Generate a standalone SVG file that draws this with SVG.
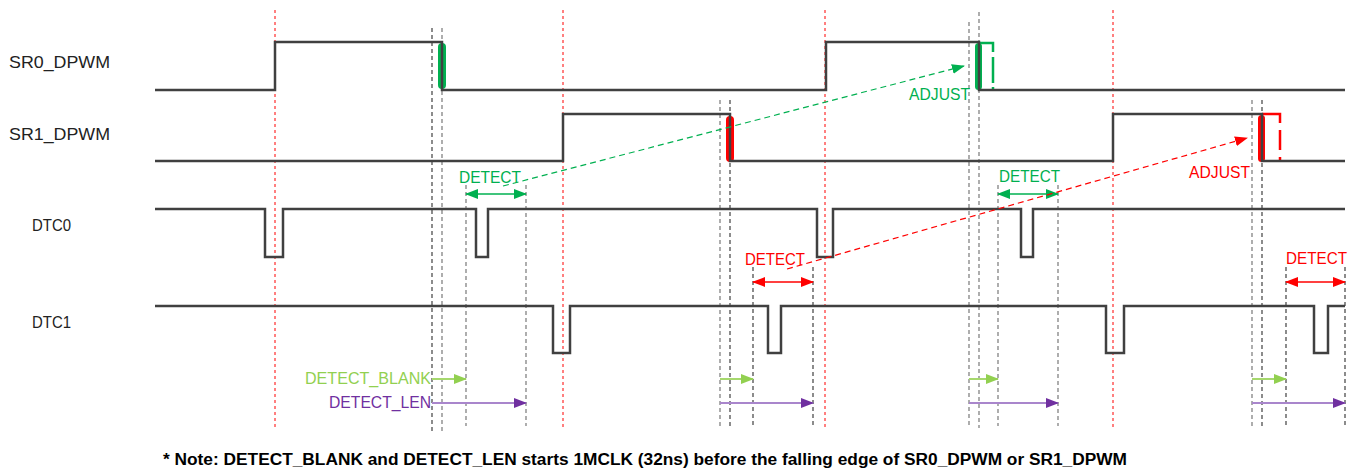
<svg xmlns="http://www.w3.org/2000/svg" width="1353" height="473" viewBox="0 0 1353 473">
<style>
.bg{fill:#fff}
.wave{fill:none;stroke:#404040;stroke-width:2.5}
.vd{stroke:#404040;stroke-width:1.2;stroke-dasharray:4 3;fill:none}
.vg{stroke:#8c8c8c;stroke-width:1.4;stroke-dasharray:4 3;fill:none}
.vr{stroke:#ff0000;stroke-width:1;stroke-dasharray:3 3;fill:none}
.lbl{font-family:"Liberation Sans",Arial,sans-serif;font-size:16.5px;fill:#222}
.g{fill:#00b050}
.r{fill:#ff0000}
.t{font-family:"Liberation Sans",Arial,sans-serif;font-size:16.5px}
.note{font-family:"Liberation Sans",Arial,sans-serif;font-size:16px;font-weight:bold;fill:#000}
</style>
<defs>
<marker id="ag" markerUnits="userSpaceOnUse" markerWidth="13" markerHeight="10" refX="12" refY="5" orient="auto-start-reverse"><path d="M0,0 L13,5 L0,10 z" fill="#00b050"/></marker>
<marker id="ar" markerUnits="userSpaceOnUse" markerWidth="13" markerHeight="10" refX="12" refY="5" orient="auto-start-reverse"><path d="M0,0 L13,5 L0,10 z" fill="#ff0000"/></marker>
<marker id="alg" markerUnits="userSpaceOnUse" markerWidth="13" markerHeight="10" refX="12" refY="5" orient="auto"><path d="M0,0 L13,5 L0,10 z" fill="#92d050"/></marker>
<marker id="ap" markerUnits="userSpaceOnUse" markerWidth="13" markerHeight="10" refX="12" refY="5" orient="auto"><path d="M0,0 L13,5 L0,10 z" fill="#7030a0"/></marker>
</defs>
<rect class="bg" x="0" y="0" width="1353" height="473"/>

<g id="guides">
<line class="vr" x1="275" y1="10" x2="275" y2="430"/>
<line class="vr" x1="563" y1="10" x2="563" y2="430"/>
<line class="vr" x1="825" y1="10" x2="825" y2="430"/>
<line class="vr" x1="1113" y1="10" x2="1113" y2="430"/>
<line class="vd" x1="432" y1="28" x2="432" y2="434"/>
<line class="vg" x1="442" y1="28" x2="442" y2="434"/>
<line class="vg" x1="466" y1="185" x2="466" y2="426"/>
<line class="vg" x1="526" y1="185" x2="526" y2="426"/>
<line class="vg" x1="720" y1="100" x2="720" y2="428"/>
<line class="vd" x1="730" y1="100" x2="730" y2="428"/>
<line class="vd" x1="753" y1="267" x2="753" y2="426"/>
<line class="vd" x1="813" y1="267" x2="813" y2="426"/>
<line class="vg" x1="969" y1="22" x2="969" y2="428"/>
<line class="vg" x1="979" y1="12" x2="979" y2="428"/>
<line class="vg" x1="998" y1="185" x2="998" y2="426"/>
<line class="vg" x1="1058" y1="185" x2="1058" y2="426"/>
<line class="vg" x1="1252" y1="100" x2="1252" y2="428"/>
<line class="vd" x1="1262" y1="100" x2="1262" y2="428"/>
<line class="vd" x1="1286" y1="267" x2="1286" y2="426"/>
<line class="vd" x1="1345" y1="267" x2="1345" y2="426"/>
</g>

<g id="marks">
<rect class="g" x="438" y="43" width="8" height="46" rx="4"/>
<rect class="r" x="726" y="116" width="8" height="46" rx="4"/>
<rect class="g" x="975" y="43" width="7" height="47" rx="3.5"/>
<rect class="r" x="1258" y="115" width="7" height="47" rx="3.5"/>
<path d="M979,43 H993 V91" fill="none" stroke="#00b050" stroke-width="2.5" stroke-dasharray="23 5 26 4 4 10"/>
<path d="M1262,114 H1280 V162" fill="none" stroke="#ff0000" stroke-width="2.5" stroke-dasharray="27 7 20 7 6 10"/>
</g>

<g id="SR0_DPWM"><text class="lbl" x="9" y="68" textLength="101" lengthAdjust="spacingAndGlyphs">SR0_DPWM</text>
<path class="wave" d="M155,90 H275 V42 H442 V90 H826 V42 H979 V90 H1345"/></g>
<g id="SR1_DPWM"><text class="lbl" x="9" y="140" textLength="101" lengthAdjust="spacingAndGlyphs">SR1_DPWM</text>
<path class="wave" d="M155,161 H563 V114 H730 V161 H1113 V114 H1262 V161 H1345"/></g>
<g id="DTC0"><text class="lbl" x="32" y="231" textLength="39" lengthAdjust="spacingAndGlyphs">DTC0</text>
<path class="wave" d="M155,209 H265 V257 H283 V209 H476 V257 H488 V209 H817 V257 H833 V209 H1021 V257 H1033 V209 H1345"/></g>
<g id="DTC1"><text class="lbl" x="32" y="328" textLength="39" lengthAdjust="spacingAndGlyphs">DTC1</text>
<path class="wave" d="M155,306 H553 V353 H570 V306 H768 V353 H781 V306 H1106 V353 H1124 V306 H1314 V353 H1328 V306 H1345"/></g>

<g id="connectors">
<line x1="466" y1="194" x2="526" y2="194" stroke="#00b050" stroke-width="1.5" marker-start="url(#ag)" marker-end="url(#ag)"/>
<line x1="998" y1="194" x2="1058" y2="194" stroke="#00b050" stroke-width="1.5" marker-start="url(#ag)" marker-end="url(#ag)"/>
<line x1="753" y1="282" x2="813" y2="282" stroke="#ff0000" stroke-width="1.5" marker-start="url(#ar)" marker-end="url(#ar)"/>
<line x1="1286" y1="282" x2="1345" y2="282" stroke="#ff0000" stroke-width="1.5" marker-start="url(#ar)" marker-end="url(#ar)"/>
<line x1="503" y1="186" x2="964" y2="66" stroke="#00b050" stroke-width="1.2" stroke-dasharray="6 4" marker-end="url(#ag)"/>
<line x1="787" y1="269" x2="1247" y2="138" stroke="#ff0000" stroke-width="1.2" stroke-dasharray="6 4" marker-end="url(#ar)"/>
<line x1="432" y1="379" x2="466" y2="379" stroke="#a6d86e" stroke-width="2" marker-end="url(#alg)"/>
<line x1="720" y1="379" x2="753" y2="379" stroke="#a6d86e" stroke-width="2" marker-end="url(#alg)"/>
<line x1="969" y1="379" x2="998" y2="379" stroke="#a6d86e" stroke-width="2" marker-end="url(#alg)"/>
<line x1="1252" y1="379" x2="1286" y2="379" stroke="#a6d86e" stroke-width="2" marker-end="url(#alg)"/>
<line x1="432" y1="403" x2="526" y2="403" stroke="#a986cc" stroke-width="2" marker-end="url(#ap)"/>
<line x1="720" y1="403" x2="813" y2="403" stroke="#a986cc" stroke-width="2" marker-end="url(#ap)"/>
<line x1="969" y1="403" x2="1058" y2="403" stroke="#a986cc" stroke-width="2" marker-end="url(#ap)"/>
<line x1="1252" y1="403" x2="1345" y2="403" stroke="#a986cc" stroke-width="2" marker-end="url(#ap)"/>
</g>

<g id="labels">
<text class="t" x="459" y="183" fill="#00b050" textLength="62" lengthAdjust="spacingAndGlyphs">DETECT</text>
<text class="t" x="999" y="182" fill="#00b050" textLength="61" lengthAdjust="spacingAndGlyphs">DETECT</text>
<text class="t" x="745" y="265" fill="#ff0000" textLength="60" lengthAdjust="spacingAndGlyphs">DETECT</text>
<text class="t" x="1286" y="264" fill="#ff0000" textLength="61" lengthAdjust="spacingAndGlyphs">DETECT</text>
<text class="t" x="909" y="100" fill="#00b050" textLength="61" lengthAdjust="spacingAndGlyphs">ADJUST</text>
<text class="t" x="1189" y="178" fill="#ff0000" textLength="61" lengthAdjust="spacingAndGlyphs">ADJUST</text>
<text class="t" x="305" y="384" fill="#92d050" textLength="126" lengthAdjust="spacingAndGlyphs">DETECT_BLANK</text>
<text class="t" x="329" y="408" fill="#7030a0" textLength="102" lengthAdjust="spacingAndGlyphs">DETECT_LEN</text>
<text class="note" x="163" y="465" textLength="964" lengthAdjust="spacingAndGlyphs">* Note: DETECT_BLANK and DETECT_LEN starts 1MCLK (32ns) before the falling edge of SR0_DPWM or SR1_DPWM</text>
</g>
</svg>
